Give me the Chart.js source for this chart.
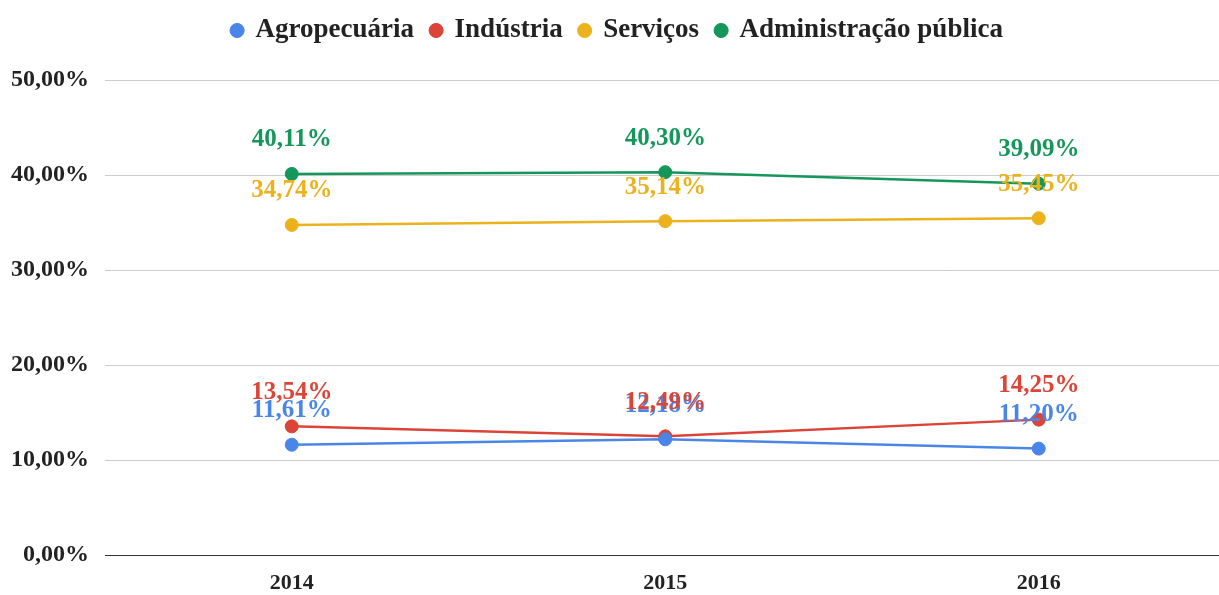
<!DOCTYPE html>
<html>
<head>
<meta charset="utf-8">
<script src="https://cdn.jsdelivr.net/npm/chart.js@4/dist/chart.umd.min.js"></script>
<style>
  html, body { margin: 0; padding: 0; background: #fff; overflow: hidden; }
  #wrap { width: 1233px; height: 595px; }
</style>
</head>
<body>
<div id="wrap"><canvas id="myChart"></canvas></div>
<script>
const years = ['2014', '2015', '2016'];
const agro = [11.61, 12.18, 11.20];
const industria = [13.54, 12.49, 14.25];
const servicos = [34.74, 35.14, 35.45];
const admin = [40.11, 40.30, 39.09];
const yTicks = [0, 10, 20, 30, 40, 50];

const serif = "'Liberation Serif', 'DejaVu Serif', serif";

function pct(v) {
    return v.toFixed(2).replace('.', ',') + '%';
}

const pointLabels = {
    id: 'pointLabels',
    afterDatasetsDraw(chart) {
        const ctx = chart.ctx;
        ctx.save();
        ctx.font = 'bold 25px ' + serif;
        ctx.textAlign = 'center';
        ctx.textBaseline = 'middle';
        chart.data.datasets.forEach((ds, i) => {
            const meta = chart.getDatasetMeta(i);
            meta.data.forEach((pt, j) => {
                ctx.fillStyle = ds.borderColor;
                ctx.fillText(pct(ds.data[j]), pt.x, pt.y - 34);
            });
        });
        ctx.restore();
    }
};

// push the plot area down under the legend
const legendGap = {
    id: 'legendGap',
    beforeInit(chart) {
        const fit = chart.legend.fit;
        chart.legend.fit = function () {
            fit.bind(chart.legend)();
            this.height += 26;
        };
    }
};

function series(label, data, color) {
    return {
        label: label,
        data: data,
        borderColor: color,
        backgroundColor: color,
        borderWidth: 2.5,
        pointRadius: 6.5,
        pointBorderWidth: 1,
        pointHoverRadius: 6.5,
        tension: 0
    };
}

const ctx = document.getElementById('myChart');
new Chart(ctx, {
    type: 'line',
    data: {
        labels: years,
        datasets: [
            series('Agropecuária', agro, '#4a86e8'),
            series('Indústria', industria, '#db4437'),
            series('Serviços', servicos, '#ecb21c'),
            series('Administração pública', admin, '#15965a')
        ]
    },
    options: {
        responsive: true,
        maintainAspectRatio: false,
        animation: false,
        layout: { padding: { top: 0, left: 2, right: 0, bottom: 0 } },
        plugins: {
            legend: {
                position: 'top',
                labels: {
                    usePointStyle: true,
                    pointStyle: 'circle',
                    boxWidth: 10,
                    boxHeight: 10,
                    padding: 17,
                    color: '#222',
                    font: { family: serif, size: 27, weight: 'bold' }
                }
            },
            tooltip: { enabled: false }
        },
        scales: {
            x: {
                offset: true,
                afterFit(axis) { axis.height = 40; },
                grid: { display: false },
                border: { color: '#333', width: 1 },
                ticks: {
                    color: '#222',
                    padding: 7,
                    font: { family: serif, size: 22, weight: 'bold' }
                }
            },
            y: {
                min: 0,
                max: 50,
                afterBuildTicks(axis) {
                    axis.ticks = yTicks.map(v => ({ value: v }));
                },
                afterFit(axis) { axis.width -= 7; },
                grid: {
                    color: (c) => c.tick && c.tick.value === 0 ? '#333' : '#cccccc',
                    drawTicks: false
                },
                border: { display: false },
                ticks: {
                    color: '#222',
                    padding: 16,
                    font: { family: serif, size: 24, weight: 'bold' },
                    callback: (v) => pct(v)
                }
            }
        }
    },
    plugins: [pointLabels, legendGap]
});
</script>
</body>
</html>
